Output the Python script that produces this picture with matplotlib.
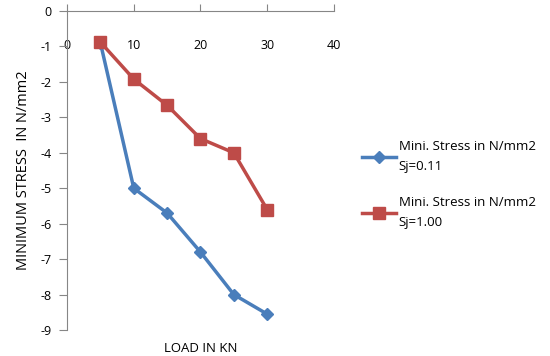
import matplotlib
matplotlib.use("Agg")
import matplotlib.pyplot as plt

load = [5, 10, 15, 20, 25, 30]
stress_sj011 = [-0.9, -5.0, -5.7, -6.8, -8.0, -8.55]
stress_sj100 = [-0.88, -1.92, -2.66, -3.6, -4.0, -5.6]
x_ticks = [0, 10, 20, 30, 40]
y_ticks = [0, -1, -2, -3, -4, -5, -6, -7, -8, -9]

plt.rcParams['font.family'] = ['Open Sans', 'DejaVu Sans']
plt.rcParams['axes.unicode_minus'] = False

fig = plt.figure(figsize=(5.5, 3.56), dpi=100)
ax = fig.add_axes([0.122, 0.073, 0.485, 0.896])

ax.plot(load, stress_sj011, color="#4a7ebb", linewidth=2.5, marker="D",
        markersize=6, label="Mini. Stress in N/mm2\nSj=0.11")
ax.plot(load, stress_sj100, color="#be4b48", linewidth=2.5, marker="s",
        markersize=8, label="Mini. Stress in N/mm2\nSj=1.00")

ax.set_xlim(0, 40)
ax.set_ylim(-9, 0)
ax.set_xticks(x_ticks)
ax.set_yticks(y_ticks)

# x axis sits on top (y=0), labels just below the line
ax.xaxis.set_ticks_position("top")
ax.tick_params(axis="x", direction="out", length=5, color="#868686",
               labeltop=False, labelbottom=True, labelsize=9, pad=0)
for lbl in ax.get_xticklabels():
    lbl.set_transform(lbl.get_transform() + matplotlib.transforms.ScaledTranslation(0, 2.98, fig.dpi_scale_trans))
ax.tick_params(axis="y", direction="out", length=6, color="#868686", labelsize=9, pad=5)

for s in ["right", "bottom"]:
    ax.spines[s].set_visible(False)
for s in ["left", "top"]:
    ax.spines[s].set_color("#868686")

ax.set_ylabel("MINIMUM STRESS  IN N/mm2", fontsize=10.5, labelpad=7)
fig.text(0.365, 0.01, "LOAD IN KN", fontsize=9.5, ha="center")

leg = ax.legend(loc="center left", bbox_to_anchor=(1.06, 0.455), frameon=False,
                fontsize=9.5, handlelength=2.6, labelspacing=1.75, handletextpad=0.2)
for t in leg.get_texts():
    t.set_linespacing(1.7)

fig.savefig("out.png", dpi=100)
